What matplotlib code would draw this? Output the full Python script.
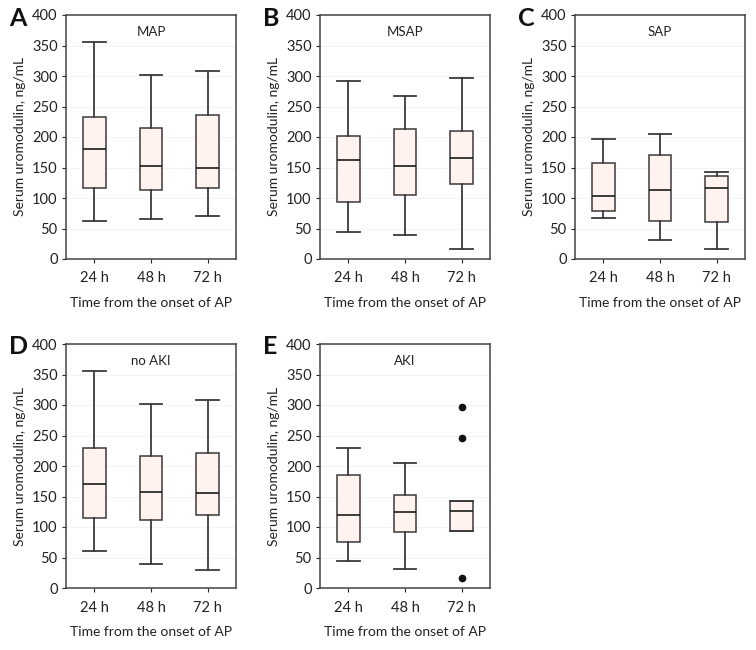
import matplotlib
matplotlib.use("Agg")
import matplotlib.pyplot as plt

plt.rcParams['font.family'] = ['Lato', 'DejaVu Sans']

times = ["24 h", "48 h", "72 h"]
panels = ["A", "B", "C", "D", "E"]
titles = ["MAP", "MSAP", "SAP", "no AKI", "AKI"]

# per panel: lists over times (24 h, 48 h, 72 h)
whislo = {
    "A": [63, 66, 70],
    "B": [45, 40, 16],
    "C": [67, 31, 17],
    "D": [61, 40, 29],
    "E": [45, 31, 93],
}
q1 = {
    "A": [116, 113, 117],
    "B": [93, 105, 123],
    "C": [79, 62, 61],
    "D": [115, 111, 119],
    "E": [75, 92, 93],
}
med = {
    "A": [180, 152, 149],
    "B": [162, 153, 166],
    "C": [104, 113, 117],
    "D": [170, 158, 156],
    "E": [120, 125, 127],
}
q3 = {
    "A": [232, 214, 236],
    "B": [201, 213, 210],
    "C": [157, 170, 136],
    "D": [230, 216, 222],
    "E": [185, 152, 143],
}
whishi = {
    "A": [356, 301, 309],
    "B": [291, 268, 297],
    "C": [197, 205, 142],
    "D": [356, 301, 308],
    "E": [229, 205, 143],
}
fliers = {
    "A": [[], [], []],
    "B": [[], [], []],
    "C": [[], [], []],
    "D": [[], [], []],
    "E": [[], [], [296, 246, 17]],
}

yticks = [0, 50, 100, 150, 200, 250, 300, 350, 400]

W, H = 756, 650
fig = plt.figure(figsize=(W / 100, H / 100), dpi=100)

# axes boxes in pixels: (left, top, right, bottom)
boxes_px = {
    "A": (66, 15, 236, 259),
    "B": (320, 15, 490, 259),
    "C": (575, 15, 745, 259),
    "D": (66, 344, 236, 588),
    "E": (320, 344, 490, 588),
}

edge = "#3a3a3a"
fill = "#fff2ef"

for p, t in zip(panels, titles):
    l, tp, r, b = boxes_px[p]
    ax = fig.add_axes([l / W, 1 - b / H, (r - l) / W, (b - tp) / H])
    stats = []
    for i in range(3):
        stats.append(dict(whislo=whislo[p][i], q1=q1[p][i], med=med[p][i],
                          q3=q3[p][i], whishi=whishi[p][i], fliers=fliers[p][i]))
    ax.bxp(stats, positions=[1, 2, 3], widths=0.4, capwidths=0.4,
           patch_artist=True, showfliers=True,
           boxprops=dict(facecolor=fill, edgecolor=edge, linewidth=1.1),
           medianprops=dict(color="#1a1a1a", linewidth=1.2),
           whiskerprops=dict(color=edge, linewidth=1.3),
           capprops=dict(color=edge, linewidth=1.3),
           flierprops=dict(marker="o", markerfacecolor="#111111",
                           markeredgecolor="#111111", markersize=4.5))
    ax.set_xlim(0.5, 3.5)
    ax.set_ylim(0, 400)
    ax.set_yticks(yticks)
    ax.set_xticks([1, 2, 3])
    ax.set_xticklabels(times)
    ax.tick_params(axis="both", labelsize=10.5, colors="#222222",
                   length=3, width=0.8, direction="out", pad=3)
    ax.tick_params(axis="x", pad=6)
    for s in ax.spines.values():
        s.set_color("#444444")
        s.set_linewidth(1.1)
    ax.yaxis.grid(True, color="#f4f4f4", linewidth=0.8)
    ax.set_axisbelow(True)
    ax.set_ylabel("Serum uromodulin, ng/mL", fontsize=10, color="#222222", labelpad=4)
    ax.set_xlabel("Time from the onset of AP", fontsize=10, color="#222222", labelpad=8)
    ax.text(0.5, 0.955, t, transform=ax.transAxes, ha="center", va="top",
            fontsize=9.5, color="#222222")
    fig.text((l - 57) / W, 1 - 18 / H - (tp - 15) / H, p, fontsize=18,
             fontweight="bold", ha="left", va="center", color="#111111")

fig.savefig("out.png", dpi=100, facecolor="white")
